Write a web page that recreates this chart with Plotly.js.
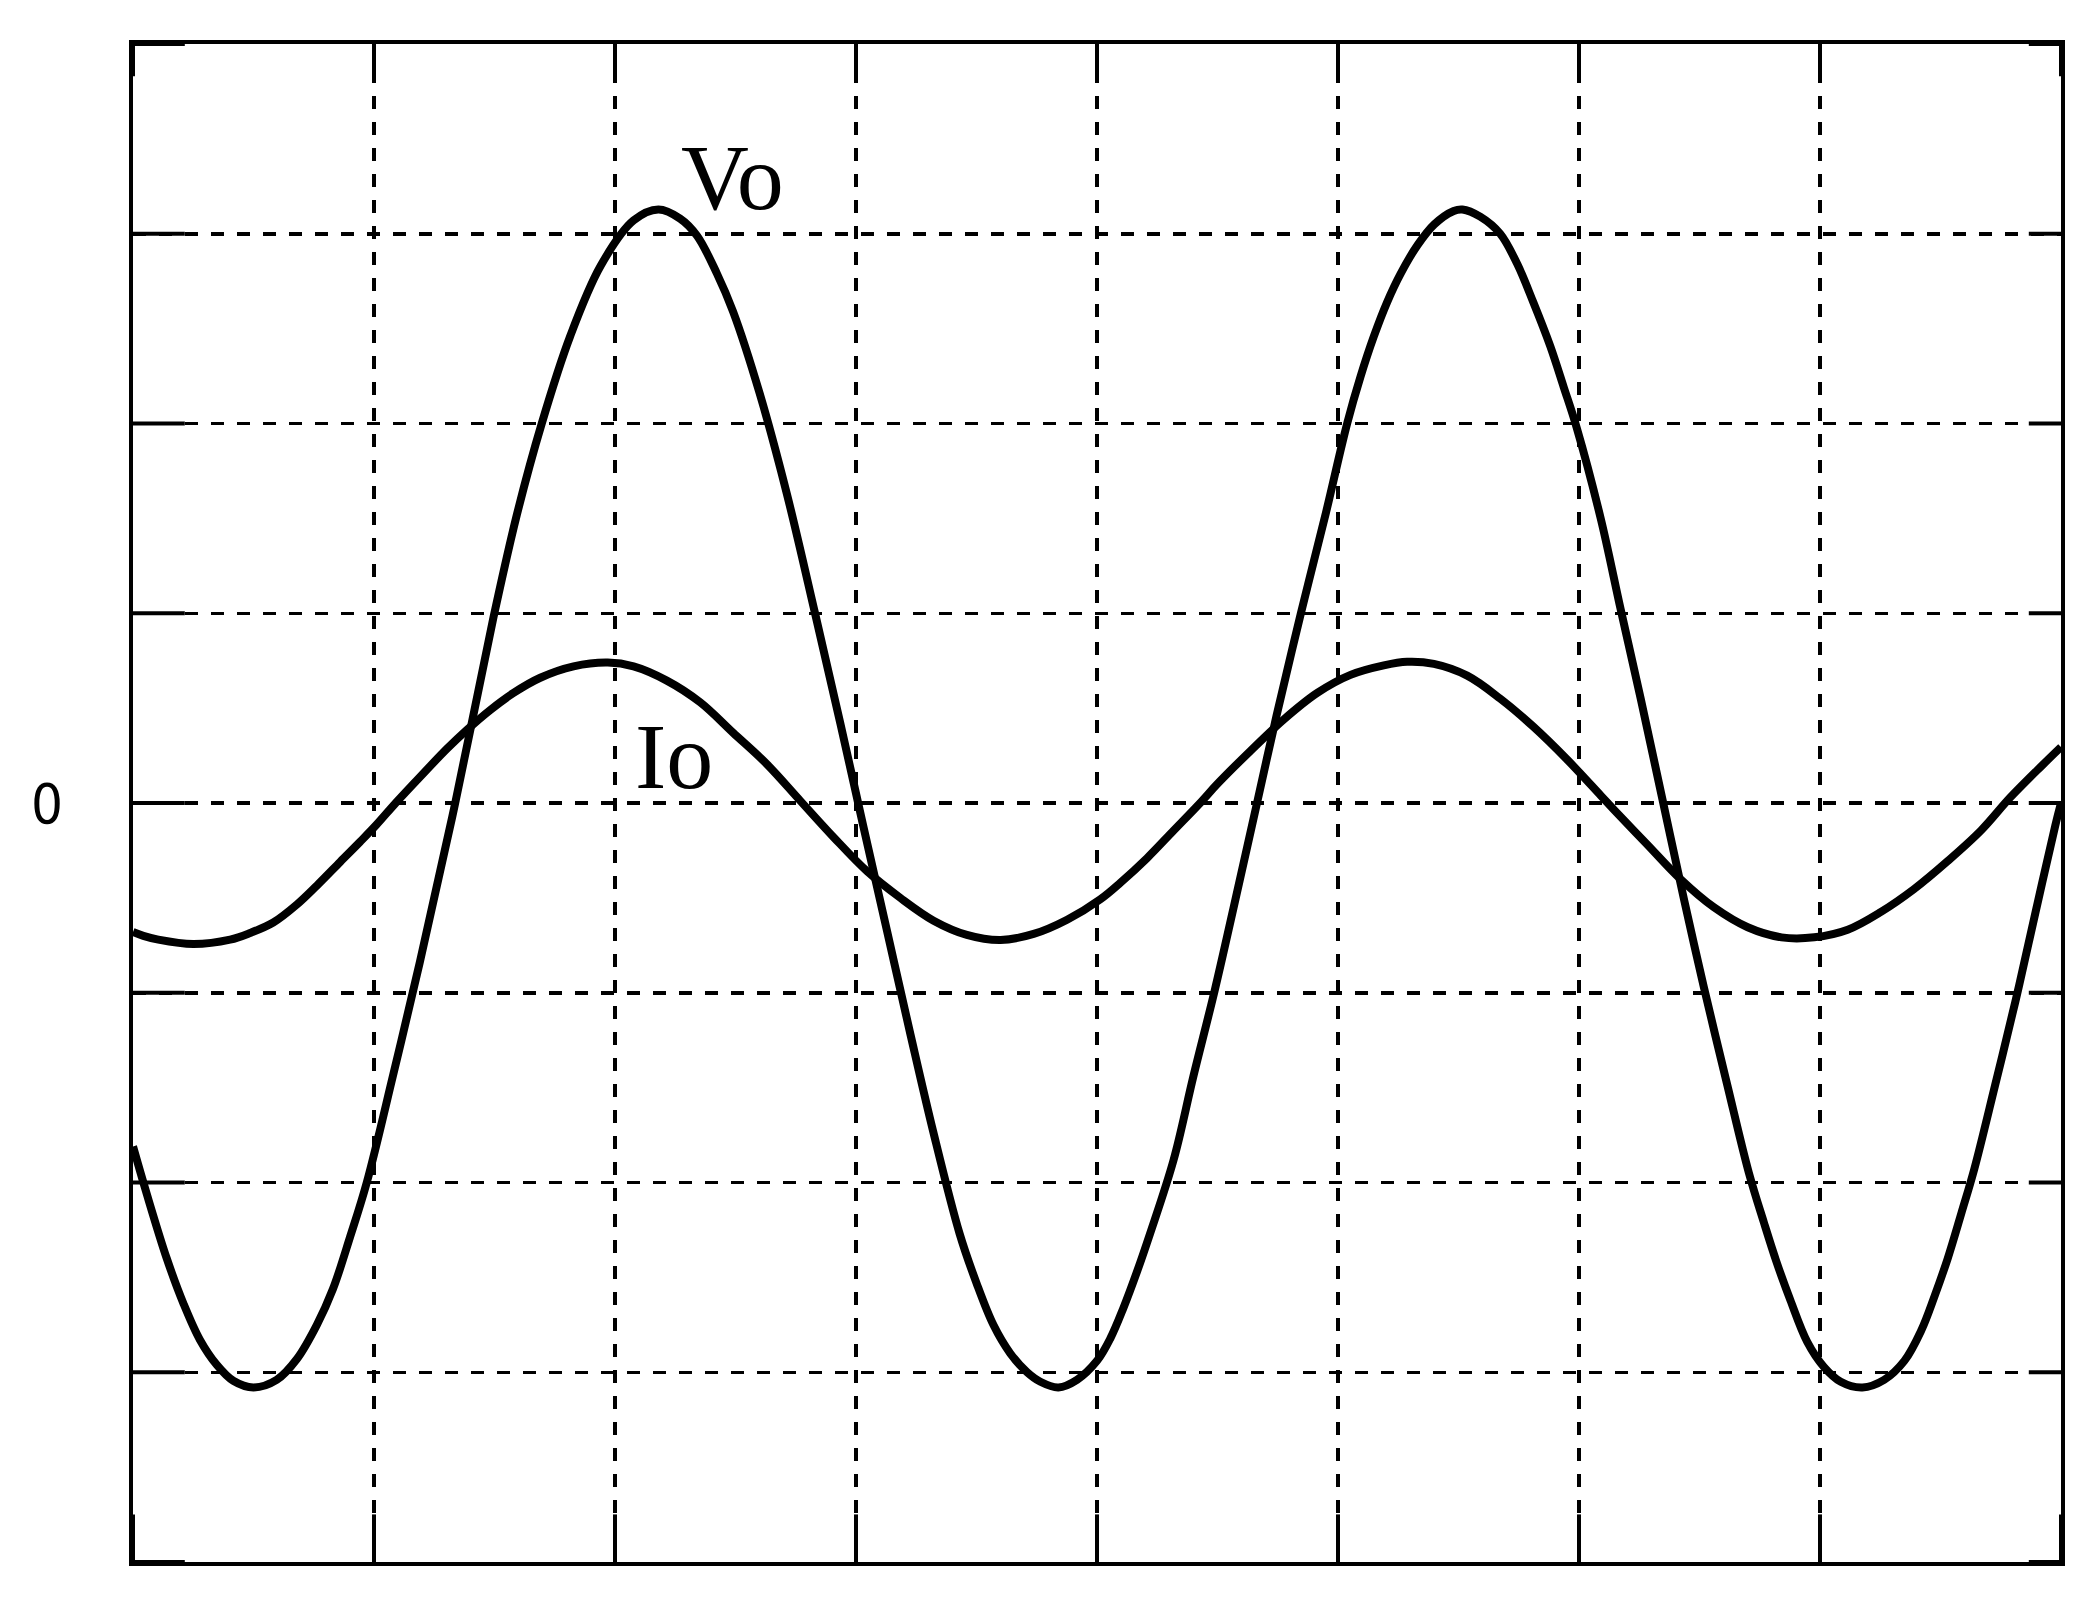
<!DOCTYPE html>
<html>
<head>
<meta charset="utf-8">
<script src="https://cdn.plot.ly/plotly-3.0.1.min.js"></script>
<style>
  html, body { margin: 0; padding: 0; background: #ffffff; }
  #chart { width: 2099px; height: 1598px; }
</style>
</head>
<body>
<div id="chart"></div>
<script>
// Time axis in screen divisions (8 divisions), amplitude in divisions (-4..4)
const voX = [0.00, 0.057, 0.14, 0.21, 0.278, 0.347, 0.416, 0.50, 0.596, 0.68, 0.763, 0.83, 0.90, 0.97, 1.08, 1.19, 1.337, 1.496, 1.593, 1.696, 1.814, 1.94, 2.077, 2.18, 2.27, 2.34, 2.423, 2.49, 2.60, 2.713, 2.83, 2.935, 3.03, 3.128, 3.226, 3.32, 3.43, 3.50, 3.57, 3.64, 3.71, 3.765, 3.84, 3.917, 4.00, 4.056, 4.11, 4.166, 4.22, 4.318, 4.40, 4.488, 4.567, 4.664, 4.745, 4.846, 4.95, 5.038, 5.093, 5.149, 5.204, 5.26, 5.33, 5.40, 5.48, 5.516, 5.59, 5.673, 5.744, 5.81, 5.88, 5.937, 5.99, 6.09, 6.173, 6.256, 6.346, 6.436, 6.518, 6.616, 6.705, 6.767, 6.82, 6.877, 6.947, 7.015, 7.086, 7.176, 7.266, 7.35, 7.42, 7.475, 7.53, 7.587, 7.64, 7.726, 7.81, 7.89, 7.976, 8.00];
const voY = [-1.81, -2.06, -2.40, -2.64, -2.83, -2.96, -3.045, -3.08, -3.04, -2.93, -2.75, -2.56, -2.29, -2.00, -1.43, -0.84, 0.00, 0.98, 1.52, 2.00, 2.46, 2.83, 3.07, 3.128, 3.08, 2.99, 2.79, 2.59, 2.16, 1.63, 1.00, 0.42, -0.12, -0.67, -1.22, -1.73, -2.27, -2.53, -2.75, -2.90, -3.00, -3.05, -3.08, -3.04, -2.94, -2.82, -2.66, -2.47, -2.27, -1.88, -1.44, -0.99, -0.55, 0.00, 0.46, 1.00, 1.53, 2.00, 2.245, 2.46, 2.64, 2.79, 2.94, 3.05, 3.12, 3.128, 3.09, 3.00, 2.84, 2.64, 2.41, 2.19, 1.98, 1.50, 1.02, 0.55, 0.02, -0.51, -0.97, -1.49, -1.95, -2.21, -2.42, -2.62, -2.84, -2.97, -3.05, -3.08, -3.04, -2.94, -2.78, -2.60, -2.40, -2.16, -1.93, -1.49, -1.05, -0.60, -0.12, 0.00];

const ioX = [0.00, 0.043, 0.105, 0.25, 0.403, 0.486, 0.582, 0.68, 0.763, 0.86, 0.942, 1.01, 1.09, 1.178, 1.302, 1.385, 1.482, 1.579, 1.69, 1.828, 1.97, 2.077, 2.215, 2.354, 2.49, 2.63, 2.77, 2.907, 3.046, 3.184, 3.322, 3.46, 3.60, 3.737, 3.876, 4.014, 4.097, 4.208, 4.318, 4.43, 4.499, 4.637, 4.775, 4.914, 5.052, 5.19, 5.287, 5.398, 5.536, 5.673, 5.81, 5.95, 6.09, 6.145, 6.284, 6.42, 6.56, 6.70, 6.84, 6.976, 7.115, 7.253, 7.39, 7.53, 7.668, 7.79, 7.923, 8.00];
const ioY = [-0.68, -0.70, -0.72, -0.743, -0.72, -0.685, -0.63, -0.535, -0.435, -0.31, -0.205, -0.115, 0.00, 0.12, 0.285, 0.385, 0.49, 0.58, 0.66, 0.72, 0.74, 0.72, 0.645, 0.53, 0.37, 0.205, 0.01, -0.18, -0.36, -0.50, -0.62, -0.695, -0.722, -0.69, -0.615, -0.507, -0.42, -0.29, -0.145, 0.003, 0.10, 0.275, 0.44, 0.58, 0.675, 0.725, 0.744, 0.733, 0.671, 0.55, 0.403, 0.23, 0.04, -0.035, -0.22, -0.40, -0.55, -0.655, -0.708, -0.708, -0.668, -0.574, -0.454, -0.306, -0.145, 0.03, 0.20, 0.295];

const yGridVals = [-4, -3, -2, -1, 0, 1, 2, 3, 4];
const xGridVals = [0, 1, 2, 3, 4, 5, 6, 7, 8];
const xRange = [0, 8];
const yRange = [-4, 4];
const yLabel = "0";
const voLabel = "Vo";
const ioLabel = "Io";

const lineStyle = {color: "#000000", width: 8, shape: "spline", smoothing: 1.0};

// inside tick marks: line markers centred on the frame, outer half clipped by the plot area
function tickTrace(xs, ys, symbol, size) {
  return {x: xs, y: ys, type: "scatter", mode: "markers", hoverinfo: "skip", cliponaxis: true, showlegend: false,
          marker: {symbol: symbol, size: size, color: "#000000", line: {width: 4, color: "#000000"}}};
}

const traces = [
  {x: voX, y: voY, type: "scatter", mode: "lines", name: voLabel, line: lineStyle, hoverinfo: "skip"},
  {x: ioX, y: ioY, type: "scatter", mode: "lines", name: ioLabel, line: lineStyle, hoverinfo: "skip"},
  tickTrace(yGridVals.map(() => xRange[0]), yGridVals, "line-ew-open", 74),
  tickTrace(yGridVals.map(() => xRange[1]), yGridVals, "line-ew-open", 46),
  tickTrace(xGridVals, xGridVals.map(() => yRange[0]), "line-ns-open", 68),
  tickTrace(xGridVals, xGridVals.map(() => yRange[1]), "line-ns-open", 46)
];

const axisCommon = {
  showline: true, linecolor: "#000000", linewidth: 4, mirror: true,
  ticks: "", showgrid: true, gridcolor: "#000000", gridwidth: 3.5, griddash: "13px,13px",
  zeroline: false, showticklabels: false, fixedrange: true, tickmode: "array"
};

const layout = {
  width: 2099, height: 1598,
  margin: {l: 133, r: 38, t: 44, b: 36, pad: 0},
  paper_bgcolor: "#ffffff", plot_bgcolor: "#ffffff",
  showlegend: false,
  xaxis: Object.assign({}, axisCommon, {range: xRange, tickvals: xGridVals}),
  yaxis: Object.assign({}, axisCommon, {range: yRange, tickvals: yGridVals}),
  annotations: [
    {text: voLabel, x: 2.486, y: 3.30, xref: "x", yref: "y", showarrow: false,
     xanchor: "center", yanchor: "middle",
     font: {family: "Liberation Serif, Times New Roman, serif", size: 94, color: "#000000"}},
    {text: ioLabel, x: 2.246, y: 0.25, xref: "x", yref: "y", showarrow: false,
     xanchor: "center", yanchor: "middle",
     font: {family: "Liberation Serif, Times New Roman, serif", size: 94, color: "#000000"}},
    {text: yLabel, x: -0.0446, y: 0, xref: "paper", yref: "y", showarrow: false,
     xanchor: "center", yanchor: "middle",
     font: {family: "Liberation Sans Narrow, DejaVu Sans Condensed, Liberation Sans, sans-serif", size: 56, color: "#000000"}}
  ]
};

Plotly.newPlot("chart", traces, layout, {staticPlot: true, displayModeBar: false});
</script>
</body>
</html>
